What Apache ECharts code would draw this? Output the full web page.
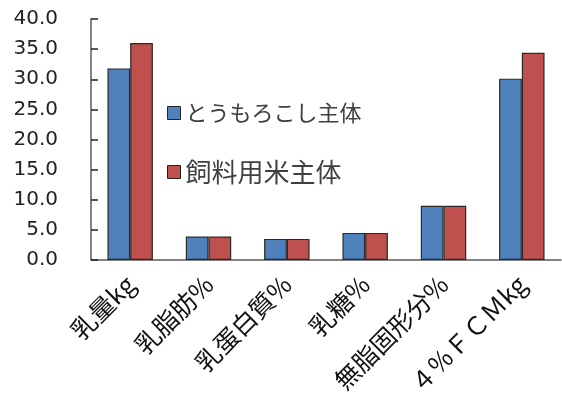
<!DOCTYPE html>
<html>
<head>
<meta charset="utf-8">
<script src="https://cdn.jsdelivr.net/npm/echarts@6/dist/echarts.min.js"></script>
<style>html,body{margin:0;padding:0;background:#fff;}#c{width:562px;height:410px;}</style>
</head>
<body>
<div id="c"></div>
<script>
const categories = ['乳量kg', '乳脂肪%', '乳蛋白質%', '乳糖%', '無脂固形分%', '４％ＦＣＭkg'];
const seriesNames = ['とうもろこし主体', '飼料用米主体'];
const cornValues = [31.8, 3.9, 3.5, 4.5, 9.0, 30.1];
const riceValues = [36.0, 3.9, 3.5, 4.5, 9.0, 34.4];
const yTicks = { min: 0, max: 40, interval: 5 };

const chart = echarts.init(document.getElementById('c'), null, { renderer: 'canvas' });
const axisColor = '#5a5a5a';
chart.setOption({
  animation: false,
  backgroundColor: '#ffffff',
  grid: { left: 91, right: 1, top: 19, bottom: 150, containLabel: false },
  legend: {
    orient: 'vertical',
    left: 162,
    top: 97,
    itemWidth: 13,
    itemHeight: 13,
    itemGap: 35,
    icon: 'rect',
    itemStyle: { borderColor: '#222', borderWidth: 1 },
    textStyle: {
      color: '#404040',
      fontFamily: 'Noto Sans CJK JP',
      rich: {
        a: { fontSize: 22, color: '#404040', fontFamily: 'Noto Sans CJK JP' },
        b: { fontSize: 26, color: '#404040', fontFamily: 'Noto Sans CJK JP' }
      }
    },
    formatter: function (name) {
      return name === seriesNames[0] ? '{a|' + name + '}' : '{b|' + name + '}';
    },
    data: seriesNames
  },
  xAxis: {
    type: 'category',
    data: categories,
    axisLine: { lineStyle: { color: axisColor, width: 1.5 } },
    axisTick: { inside: true, length: 8, lineStyle: { color: '#222', width: 1.5 } },
    axisLabel: {
      rotate: 45,
      interval: 0,
      margin: 20,
      fontSize: 25,
      color: '#111',
      fontFamily: 'Noto Sans CJK JP'
    }
  },
  yAxis: {
    type: 'value',
    min: yTicks.min,
    max: yTicks.max,
    interval: yTicks.interval,
    splitLine: { show: false },
    axisLine: { show: true, lineStyle: { color: axisColor, width: 1.5 } },
    axisTick: { show: true, inside: true, length: 7, lineStyle: { color: '#222', width: 1.5 } },
    axisLabel: {
      margin: 33,
      fontSize: 20,
      color: '#222',
      fontFamily: 'DejaVu Sans',
      formatter: function (v) { return v.toFixed(1); }
    }
  },
  series: [
    {
      name: seriesNames[0],
      type: 'bar',
      data: cornValues,
      barGap: '0%',
      barCategoryGap: '42%',
      itemStyle: { color: '#4f81bd', borderColor: '#2a2a2a', borderWidth: 1.2 }
    },
    {
      name: seriesNames[1],
      type: 'bar',
      data: riceValues,
      barGap: '0%',
      barCategoryGap: '42%',
      itemStyle: { color: '#c0504d', borderColor: '#2a2a2a', borderWidth: 1.2 }
    }
  ]
});
</script>
</body>
</html>
